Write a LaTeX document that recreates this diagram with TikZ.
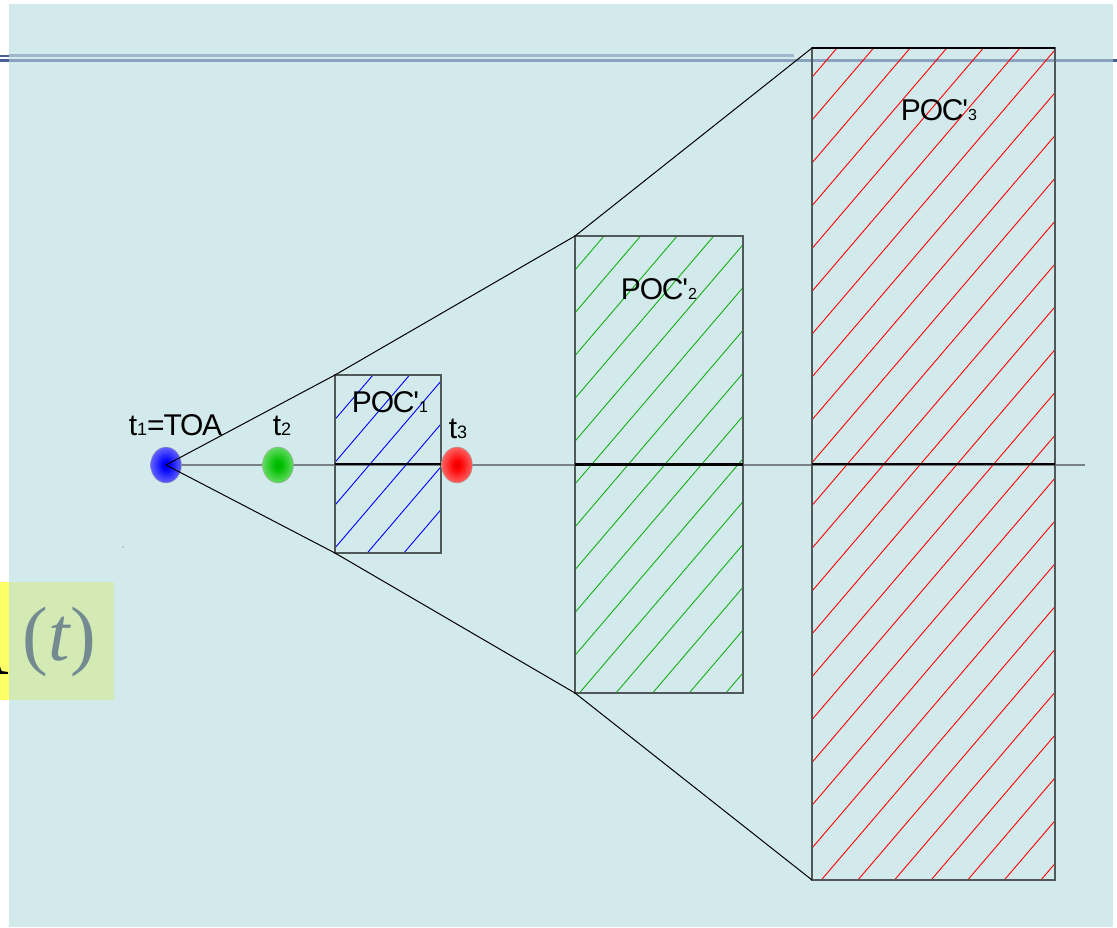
\documentclass[tikz,border=0pt]{standalone}
\usepackage{fontspec}
\newfontfamily\lab{Liberation Sans}[LetterSpace=-4]
\newfontfamily\serifA{Liberation Serif}
\usetikzlibrary{shapes.geometric}
\definecolor{bg}{RGB}{211,234,236}
\definecolor{lineLight}{RGB}{160,182,204}
\definecolor{lineMid}{RGB}{138,162,190}
\definecolor{lineDark}{RGB}{70,95,150}
\definecolor{axisgray}{RGB}{120,130,132}
\definecolor{boxgray}{RGB}{80,88,90}
\definecolor{hgreen}{RGB}{20,175,20}
\definecolor{yellowA}{RGB}{255,255,102}
\definecolor{greenbox}{RGB}{212,234,180}
\definecolor{ptext}{RGB}{114,138,144}
\pgfdeclareradialshading{ballblue}{\pgfpoint{0bp}{0bp}}{color(0bp)=(blue!85!black); color(6bp)=(blue); color(50bp)=(blue!10!white); color(100bp)=(blue!10!white)}
\pgfdeclareradialshading{ballgreen}{\pgfpoint{0bp}{0bp}}{color(0bp)=(green!70!black); color(6bp)=(green!75!black); color(50bp)=(green!10!white); color(100bp)=(green!10!white)}
\pgfdeclareradialshading{ballred}{\pgfpoint{0bp}{0bp}}{color(0bp)=(red!90!black); color(6bp)=(red); color(50bp)=(red!10!white); color(100bp)=(red!10!white)}
\newcommand\lsub[1]{{\fontsize{18}{18}\selectfont #1}}
\newcommand\psub[1]{{\fontsize{16}{16}\selectfont #1}}
\newcommand\myhatch[5]{\foreach \k in {#3,...,#4}{\draw[hatchln,#5] ({#1+\k*36.6-1000},{#2+1170}) -- ({#1+\k*36.6+100},{#2-117});}}
\tikzset{
  ball/.style={ellipse, inner sep=0pt, minimum width=31pt, minimum height=36pt, draw=gray!70, line width=0.4pt, shade},
  boxst/.style={draw=boxgray, line width=1.2pt, inner sep=0pt, outer sep=0pt},
  hatchln/.style={line width=0.9pt},
  cone/.style={draw=black, line width=1pt},
  axisln/.style={draw=axisgray, line width=1.5pt},
  axisdark/.style={draw=black, line width=2.2pt},
  lbl/.style={font=\lab\fontsize{30}{30}\selectfont, inner sep=0pt, anchor=base},
}
\begin{document}
\begin{tikzpicture}[x=1pt,y=-1pt]
\useasboundingbox (0,0) rectangle (1117,927);
\fill[white] (0,0) rectangle (1117,927);
\fill[bg] (9,4) rectangle (1113,927);
% top rules
\draw[lineLight, line width=2.2pt] (9,55.5) -- (794,55.5);
\draw[lineMid, line width=3pt] (9,60) -- (1113,60);
\draw[lineDark, line width=2pt] (0,55.5) -- (9,55.5);
\draw[lineDark, line width=3pt] (0,60) -- (9,60);
\draw[lineDark, line width=3pt] (1113,60) -- (1117,60);
% bottom-left fragment
\fill[yellowA] (0,582) rectangle (9,700);
\fill[greenbox] (9,582) rectangle (114,700);
\begin{scope}
\clip (0,582) rectangle (9,700);
\node[anchor=base east, inner sep=0pt, font=\serifA\fontsize{77}{80}\selectfont] (afrag) at (9,674) {A};
\end{scope}
\node[anchor=base, inner sep=0pt, text=ptext, font=\serifA\fontsize{77}{80}\selectfont] (tpar) at (59.5,660) {(\textit{t})};
\fill[gray!60] (123,547) circle [radius=1pt];
% boxes (nodes)
\node[minimum width=106pt, minimum height=178pt, inner sep=0pt, outer sep=0pt] (b1) at (388,464) {};
\node[minimum width=168pt, minimum height=457pt, inner sep=0pt, outer sep=0pt] (b2) at (659,464.5) {};
\node[minimum width=243pt, minimum height=832pt, inner sep=0pt, outer sep=0pt] (b3) at (933.5,464) {};
% axis
\coordinate (axisend) at (1085,465);
\coordinate (axisstart) at (166,465);
\draw[axisln] (axisstart) -- (axisend);
% hatching
\begin{scope}
\clip (b1.north west) rectangle (b1.south east);
\myhatch{373}{375}{-2}{8}{blue}
\end{scope}
\begin{scope}
\clip (b2.north west) rectangle (b2.south east);
\myhatch{604}{236}{-2}{16}{hgreen}
\end{scope}
\begin{scope}
\clip (b3.north west) rectangle (b3.south east);
\myhatch{837}{48}{-2}{27}{red}
\end{scope}
\draw[boxst] (b1.north west) rectangle (b1.south east);
\draw[boxst] (b2.north west) rectangle (b2.south east);
\draw[boxst] (b3.north west) rectangle (b3.south east);
\draw[black, line width=1.2pt] (b3.north west) -- (b3.north east);
\draw[axisdark] (b1.west) -- (b1.east);
\draw[axisdark] (b2.west) -- (b2.east);
\draw[axisdark] (b3.west) -- (b3.east);
% balls
\node[ball, shading=ballblue] (t1) at (166,465) {};
\node[ball, shading=ballgreen] (t2) at (278,465) {};
\node[ball, shading=ballred] (t3) at (457,465) {};
% cone
\draw[cone] (t1.center) -- (b1.north west) -- (b2.north west) -- (b3.north west);
\draw[cone] (t1.center) -- (b1.south west) -- (b2.south west) -- (b3.south west);
% labels
\node[lbl] (l1) at (175.5,435) {t\lsub{1}=TOA};
\node[lbl] (l2) at (282,435) {t\lsub{2}};
\node[lbl] (l3) at (458,438) {t\lsub{3}};
\node[lbl] (p1) at (390,412) {POC'\psub{1}};
\node[lbl] (p2) at (659,299) {POC'\psub{2}};
\node[lbl] (p3) at (939,120) {POC'\psub{3}};
\end{tikzpicture}
\end{document}
